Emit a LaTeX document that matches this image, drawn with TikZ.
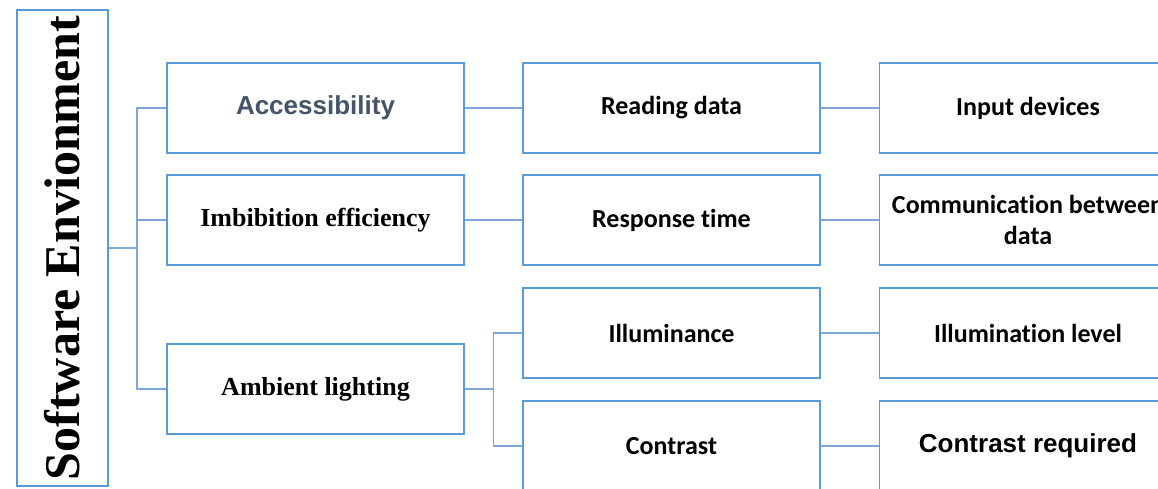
\documentclass[tikz,border=0pt]{standalone}
\usepackage{fontspec}
\setmainfont{Liberation Serif}
\newfontfamily\arialfont{Liberation Sans}
\newfontfamily\calibrifont[RawFeature={-liga;-clig;-calt;-dlig}]{Carlito}
\definecolor{boxblue}{RGB}{91,155,213}
\definecolor{linkblue}{RGB}{125,167,214}
\definecolor{slate}{RGB}{68,84,106}

\begin{document}
\begin{tikzpicture}
  [
    x=1pt, y=1pt,
    box/.style =
      {draw=boxblue, line width=1.4pt, align=center, inner sep=2pt,
       minimum width=297pt, minimum height=90pt},
    link/.style =
      {draw=linkblue, line width=1.1pt},
    serif/.style = {font=\fontsize{26}{31}\selectfont\bfseries},
    sans/.style  = {font=\arialfont\fontsize{26}{31}\selectfont\bfseries},
    cal/.style   = {font=\calibrifont\fontsize{26}{31}\selectfont\bfseries}
  ]
  \useasboundingbox (0,0) rectangle (1158,488);
  \clip (0,0) rectangle (1158,488);

  % root
  \node [draw=boxblue, line width=1.4pt, minimum width=91pt, minimum height=476pt]
    at (62.5, 240) (env) {};
  \node [rotate=90, inner sep=0pt, font=\fontsize{50}{60}\selectfont\bfseries]
    at (62.5, 240) (envtxt) {Software Envionment};

  % first level
  \node [box, sans, text=slate] at (315.5, 380) (acc) {Accessibility};
  \node [box, serif] at (315.5, 268) (imb) {Imbibition efficiency};
  \node [box, serif] at (315.5,  99) (amb) {Ambient lighting};

  % second level
  \node [box, cal] at (671.5, 380) (read) {Reading data};
  \node [box, cal] at (671.5, 268) (resp) {Response t\kern0pt ime};
  \node [box, cal] at (671.5, 155) (illu) {Illuminance};
  \node [box, cal] at (671.5,  42) (cont) {Contrast};

  % third level
  \node [box, cal]  at (1028, 380) (inp)  {Input devices};
  \node [box, cal]  at (1028, 268) (comm) {Communication between\\data};
  \node [box, cal]  at (1028, 155) (lev)  {Illuminat\kern0pt ion level};
  \node [box, sans] at (1028,  42) (req)  {Contrast required};

  \coordinate (t1) at (137, 240);
  \coordinate (t2) at (493.5, 99);

  \draw [link] (env.east) -- (t1);
  \draw [link] (t1) |- (acc.west);
  \draw [link] (t1) |- (imb.west);
  \draw [link] (t1) |- (amb.west);

  \draw [link] (acc.east) -- (read.west);
  \draw [link] (imb.east) -- (resp.west);
  \draw [link] (amb.east) -- (t2);
  \draw [link] (t2) |- (illu.west);
  \draw [link] (t2) |- (cont.west);

  \draw [link] (read.east) -- (inp.west);
  \draw [link] (resp.east) -- (comm.west);
  \draw [link] (illu.east) -- (lev.west);
  \draw [link] (cont.east) -- (req.west);
\end{tikzpicture}
\end{document}
